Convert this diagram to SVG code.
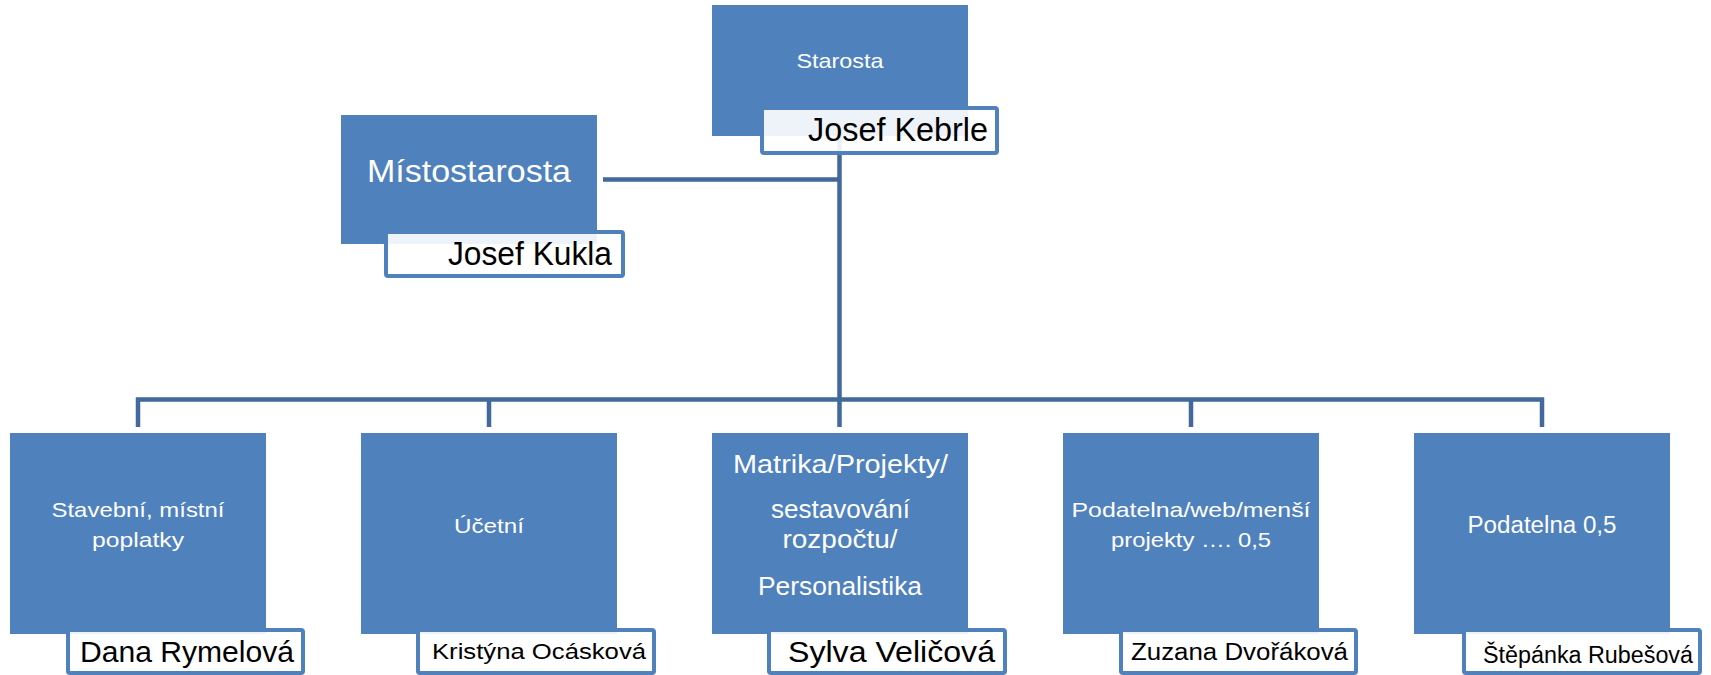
<svg xmlns="http://www.w3.org/2000/svg" width="1711" height="675" viewBox="0 0 1711 675">
<style>
.box{fill:#4f81bd;}
.nb{fill:#ffffff;fill-opacity:0.9;stroke:#4f81bd;stroke-width:4;}
.wt{fill:#ffffff;font-family:"Liberation Sans",Arial,sans-serif;text-anchor:middle;}
.bt{fill:#000000;font-family:"Liberation Sans",Arial,sans-serif;}
.ln{fill:none;stroke:#41699c;stroke-width:4.5;stroke-linejoin:miter;stroke-linecap:butt;}
</style>
<rect width="1711" height="675" fill="#ffffff"/>
<g id="connectors">
<path class="ln" d="M603 179.5 H839.5"/>
<path class="ln" d="M839.5 136 V399.5"/>
<path class="ln" d="M138 427 V399.5 H1542 V427"/>
<path class="ln" d="M489 399.5 V427"/>
<path class="ln" d="M839.5 399.5 V427"/>
<path class="ln" d="M1191 399.5 V427"/>
</g>
<g id="starosta">
<rect class="box" x="712" y="5" width="256" height="131"/>
<text class="wt" x="840" y="68" font-size="21" textLength="87" lengthAdjust="spacingAndGlyphs">Starosta</text>
<rect class="nb" x="762" y="108" width="235" height="45" rx="2"/>
<text class="bt" x="808" y="141" font-size="33" textLength="180" lengthAdjust="spacingAndGlyphs">Josef Kebrle</text>
</g>
<g id="mistostarosta">
<rect class="box" x="341" y="115" width="256" height="129"/>
<text class="wt" x="469" y="182" font-size="32" textLength="204" lengthAdjust="spacingAndGlyphs">Místostarosta</text>
<rect class="nb" x="386" y="232" width="237" height="44" rx="2"/>
<text class="bt" x="448" y="265" font-size="33" textLength="164" lengthAdjust="spacingAndGlyphs">Josef Kukla</text>
</g>
<g id="stavebni">
<rect class="box" x="10" y="433" width="256" height="201"/>
<text class="wt" x="138" y="517" font-size="21" textLength="173" lengthAdjust="spacingAndGlyphs">Stavební, místní</text>
<text class="wt" x="138" y="547" font-size="21" textLength="92" lengthAdjust="spacingAndGlyphs">poplatky</text>
<rect class="nb" x="68" y="630" width="235" height="43" rx="2"/>
<text class="bt" x="80" y="662" font-size="29" textLength="214" lengthAdjust="spacingAndGlyphs">Dana Rymelová</text>
</g>
<g id="ucetni">
<rect class="box" x="361" y="433" width="256" height="201"/>
<text class="wt" x="489" y="533" font-size="21" textLength="70" lengthAdjust="spacingAndGlyphs">Účetní</text>
<rect class="nb" x="418" y="630" width="236" height="43" rx="2"/>
<text class="bt" x="432" y="659" font-size="22" textLength="214" lengthAdjust="spacingAndGlyphs">Kristýna Ocásková</text>
</g>
<g id="matrika">
<rect class="box" x="712" y="433" width="256" height="201"/>
<text class="wt" x="840.5" y="473" font-size="26" textLength="215" lengthAdjust="spacingAndGlyphs">Matrika/Projekty/</text>
<text class="wt" x="840.5" y="518" font-size="26" textLength="139" lengthAdjust="spacingAndGlyphs">sestavování</text>
<text class="wt" x="840" y="548" font-size="26" textLength="115" lengthAdjust="spacingAndGlyphs">rozpočtu/</text>
<text class="wt" x="840" y="595" font-size="26" textLength="164" lengthAdjust="spacingAndGlyphs">Personalistika</text>
<rect class="nb" x="769" y="630" width="236" height="43" rx="2"/>
<text class="bt" x="788" y="662" font-size="29" textLength="207" lengthAdjust="spacingAndGlyphs">Sylva Veličová</text>
</g>
<g id="podatelna-web">
<rect class="box" x="1063" y="433" width="256" height="201"/>
<text class="wt" x="1191" y="517" font-size="21" textLength="239" lengthAdjust="spacingAndGlyphs">Podatelna/web/menší</text>
<text class="wt" x="1191" y="547" font-size="21" textLength="160" lengthAdjust="spacingAndGlyphs">projekty …. 0,5</text>
<rect class="nb" x="1121" y="630" width="235" height="43" rx="2"/>
<text class="bt" x="1131" y="660" font-size="23" textLength="217" lengthAdjust="spacingAndGlyphs">Zuzana Dvořáková</text>
</g>
<g id="podatelna">
<rect class="box" x="1414" y="433" width="256" height="201"/>
<text class="wt" x="1542" y="533" font-size="23" textLength="149" lengthAdjust="spacingAndGlyphs">Podatelna 0,5</text>
<rect class="nb" x="1464" y="630" width="236" height="43" rx="2"/>
<text class="bt" x="1483" y="663" font-size="23" textLength="210" lengthAdjust="spacingAndGlyphs">Štěpánka Rubešová</text>
</g>
</svg>
